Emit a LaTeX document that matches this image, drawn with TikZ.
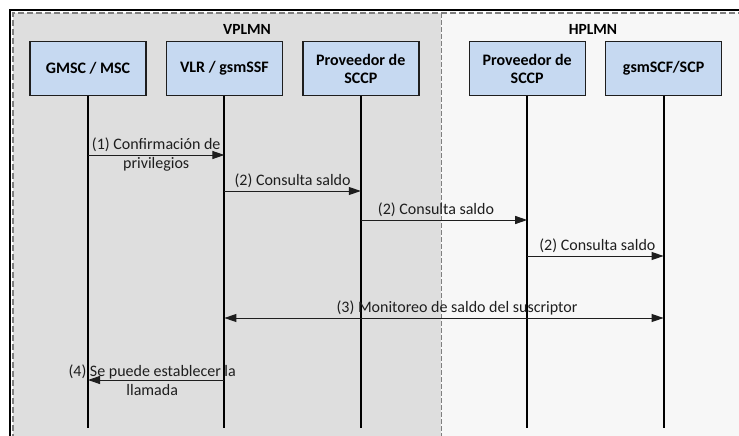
\documentclass[tikz,border=0pt]{standalone}
\usepackage{fontspec}
\setmainfont{Carlito}
\usepackage{tikz}
\usetikzlibrary{arrows.meta,positioning}
\definecolor{framegrey}{RGB}{127,127,127}
\definecolor{visitedgrey}{RGB}{222,222,222}
\definecolor{homegrey}{RGB}{247,247,247}
\definecolor{entityblue}{RGB}{198,217,241}
\definecolor{inkgrey}{RGB}{30,30,30}
\tikzset{
  entity/.style={draw=inkgrey,line width=1.4pt,fill=entityblue,
    minimum width=116pt,minimum height=54pt,inner sep=2pt,align=center,
    font=\fontsize{16}{18}\selectfont\bfseries},
  netlabel/.style={font=\fontsize{15.5}{18}\selectfont\bfseries},
  lifeline/.style={line width=2pt,draw=black},
  msg/.style={-{Triangle[length=12pt,width=8pt]},line width=1pt,draw=inkgrey},
  bothmsg/.style={{Triangle[length=12pt,width=8pt]}-{Triangle[length=12pt,width=8pt]},
    line width=1pt,draw=inkgrey},
  msglabel/.style={font=\fontsize{16}{19}\selectfont,text=inkgrey,align=center,inner sep=3pt}
}

\begin{document}
\begin{tikzpicture}[x=1pt,y=-1pt,node distance=19pt]
  \useasboundingbox (0,0) rectangle (739,436);
  % areas
  \fill[visitedgrey] (13,13) rectangle (441,436);
  \fill[homegrey] (441,13) rectangle (739,436);
  \draw[framegrey,line width=1.5pt,dash pattern=on 6pt off 3pt] (13,440) -- (13,13) -- (745,13);
  \draw[framegrey,line width=0.8pt,dash pattern=on 5pt off 2pt] (441,13) -- (441,436);
  \draw[black,line width=2pt] (10,440) -- (10,10) -- (745,10);
  \node[netlabel] (vplmn) at (247,29) {VPLMN};
  \node[netlabel] (hplmn) at (593,29) {HPLMN};

  \node[entity] (gmsc) at (88,68.5) {GMSC / MSC};
  \node[entity,right=of gmsc] (vlr) {VLR / gsmSSF};
  \node[entity,right=of vlr] (vsccp) {Proveedor de\\SCCP};
  \node[entity,right=49pt of vsccp] (hsccp) {Proveedor de\\SCCP};
  \node[entity,right=of hsccp] (scp) {gsmSCF/SCP};

  \foreach \n in {gmsc,vlr,vsccp,hsccp,scp}{
    \coordinate (\n-end) at (\n.south |- 0,428);
    \draw[lifeline] (\n) -- (\n-end);
  }

  \draw[msg] (gmsc |- 0,155) -- node[msglabel] {(1) Confirmación de\\privilegios} (vlr |- 0,155);
  \draw[msg] (vlr |- 0,191) -- node[msglabel,above] {(2) Consulta saldo} (vsccp |- 0,191);
  \draw[msg] (vsccp |- 0,220) -- node[msglabel,above,xshift=-8pt] {(2) Consulta saldo} (hsccp |- 0,220);
  \draw[msg] (hsccp |- 0,256) -- node[msglabel,above,xshift=2pt] {(2) Consulta saldo} (scp |- 0,256);
  \draw[bothmsg] (vlr |- 0,318) -- node[msglabel,above,xshift=13pt,inner sep=2pt]
    {(3) Monitoreo de saldo del suscriptor} (scp |- 0,318);
  \draw[msg] (vlr |- 0,380) -- node[msglabel,xshift=-4pt] {(4) Se puede establecer la\\llamada} (gmsc |- 0,380);
\end{tikzpicture}
\end{document}
